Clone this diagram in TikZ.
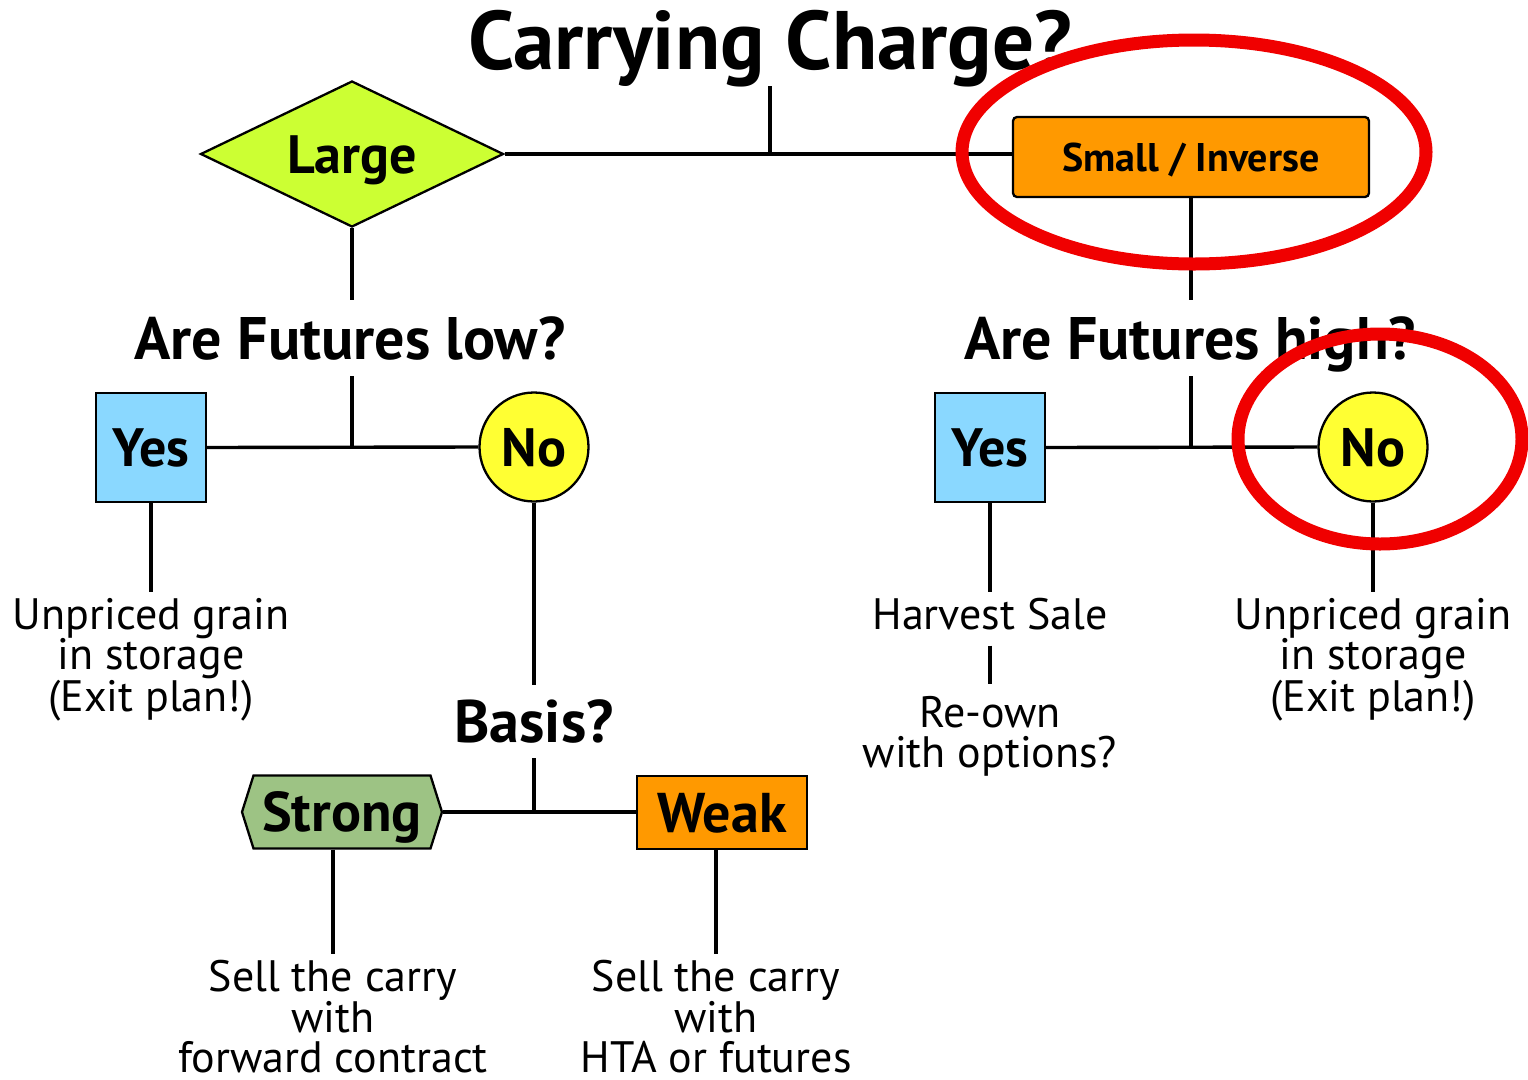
\documentclass[tikz,border=0pt]{standalone}
\usepackage{fontspec}
\setmainfont{PT Sans}
\usetikzlibrary{shapes.geometric,shapes.symbols}
\definecolor{limefill}{RGB}{204,255,51}
\definecolor{skyfill}{RGB}{138,216,255}
\definecolor{yelfill}{RGB}{255,255,51}
\definecolor{orgfill}{RGB}{255,153,0}
\definecolor{sagefill}{RGB}{157,195,132}
\definecolor{ringred}{RGB}{240,0,0}
\tikzset{
  conn/.style={line width=3.4pt},
  nodeborder/.style={draw=black, line width=2.3pt},
  titletext/.style={font=\fontsize{83}{83}\selectfont\bfseries, inner xsep=0pt, inner ysep=1pt, text height=62pt, text depth=16pt},
  question/.style={font=\fontsize{60}{60}\selectfont\bfseries, inner xsep=0pt, inner ysep=17pt, text height=42pt, text depth=0pt},
  basisq/.style={font=\fontsize{60}{60}\selectfont\bfseries, inner xsep=0pt, inner ysep=15.5pt, text height=42pt, text depth=0pt},
  sqbox/.style={nodeborder, fill=skyfill, minimum width=110pt, minimum height=109pt, font=\fontsize{54}{54}\selectfont\bfseries, inner sep=0pt, text height=38pt, text depth=0pt},
  nocirc/.style={nodeborder, circle, fill=yelfill, minimum size=109pt, font=\fontsize{54}{54}\selectfont\bfseries, inner sep=0pt, text height=38pt, text depth=0pt},
  body/.style={font=\fontsize{44}{40.5}\selectfont, align=center, inner xsep=0pt, inner ysep=6pt},
  ring/.style={draw=ringred, line width=13pt},
}
\begin{document}
\begin{tikzpicture}[x=1pt, y=-1pt]
\useasboundingbox (0,0) rectangle (1528,1079);

% title
\node[titletext] (title) at (770,46) {Carrying Charge?};

% top level
\node[nodeborder, diamond, aspect=2.075, minimum width=303pt, minimum height=146pt, fill=limefill, inner sep=0pt,
      text height=38pt, text depth=0pt,
      font=\fontsize{54}{54}\selectfont\bfseries] (large) at (352,154) {Large};
\node[nodeborder, rounded corners=4pt, fill=orgfill, minimum width=356pt, minimum height=80pt, inner sep=0pt,
      text height=28pt, text depth=0pt,
      font=\fontsize{40}{40}\selectfont\bfseries] (small) at (1191,157) {Small / Inverse};
\draw[conn] (large.east) -- (large.east -| small.west);
\draw[conn] (title.south) -- (title.south |- large.east);

% left branch
\node[question] (qlow) at (350,338) {Are Futures low?};
\draw[conn] (large.south) -- (large.south |- qlow.north);
\node[sqbox] (yes1) at (151,447.5) {Yes};
\node[nocirc] (no1) at (534,447) {No};
\draw[conn] (yes1.east) -- (no1.west);
\draw[conn] (large.south |- qlow.south) -- (large.south |- yes1.east);
\node[body, anchor=north] (grain1) at (151,592) {Unpriced grain\\in storage\\(Exit plan!)};
\draw[conn] (yes1.south) -- (grain1.north);

\node[basisq] (basis) at (534,721.5) {Basis?};
\draw[conn] (no1.south) -- (basis.north);
\node[signal, signal to=west and east, signal pointer angle=145, nodeborder, fill=sagefill,
      minimum width=200pt, minimum height=73pt, inner sep=0pt, text height=39pt, text depth=0pt,
      font=\fontsize{56}{56}\selectfont\bfseries] (strong) at (342,812) {Strong};
\node[nodeborder, fill=orgfill, minimum width=170pt, minimum height=73pt, inner sep=0pt, text height=39pt, text depth=0pt,
      font=\fontsize{56}{56}\selectfont\bfseries] (weak) at (722,812.5) {Weak};
\draw[conn] (strong.east) -- (strong.east -| weak.west);
\draw[conn] (basis.south) -- (basis.south |- strong.east);
\node[body, anchor=north] (carry1) at (333,954) {Sell the carry\\with\\forward contract};
\node[body, anchor=north] (carry2) at (716,954) {Sell the carry\\with\\HTA or futures};
\draw[conn] (carry1.north |- strong.south) -- (carry1.north);
\draw[conn] (carry2.north |- weak.south) -- (carry2.north);

% right branch
\node[question] (qhigh) at (1190,338) {Are Futures high?};
\draw[conn] (small.south) -- (small.south |- qhigh.north);
\node[sqbox] (yes2) at (990,447.5) {Yes};
\node[nocirc] (no2) at (1373,447) {No};
\draw[conn] (yes2.east) -- (no2.west);
\draw[conn] (small.south |- qhigh.south) -- (small.south |- yes2.east);
\node[body, anchor=north, text depth=10pt] (harvest) at (990,592) {Harvest Sale};
\node[body, anchor=north, inner ysep=12pt] (reown) at (990,684) {Re-own\\with options?};
\draw[conn] (yes2.south) -- (harvest.north);
\draw[conn] (harvest.south) -- (reown.north);
\node[body, anchor=north] (grain2) at (1373,592) {Unpriced grain\\in storage\\(Exit plan!)};
\draw[conn] (no2.south) -- (grain2.north);

% red highlight rings
\draw[ring] (1194,152) ellipse [x radius=232pt, y radius=112pt];
\draw[ring] (1380,439) ellipse [x radius=142pt, y radius=105pt];
\end{tikzpicture}
\end{document}
